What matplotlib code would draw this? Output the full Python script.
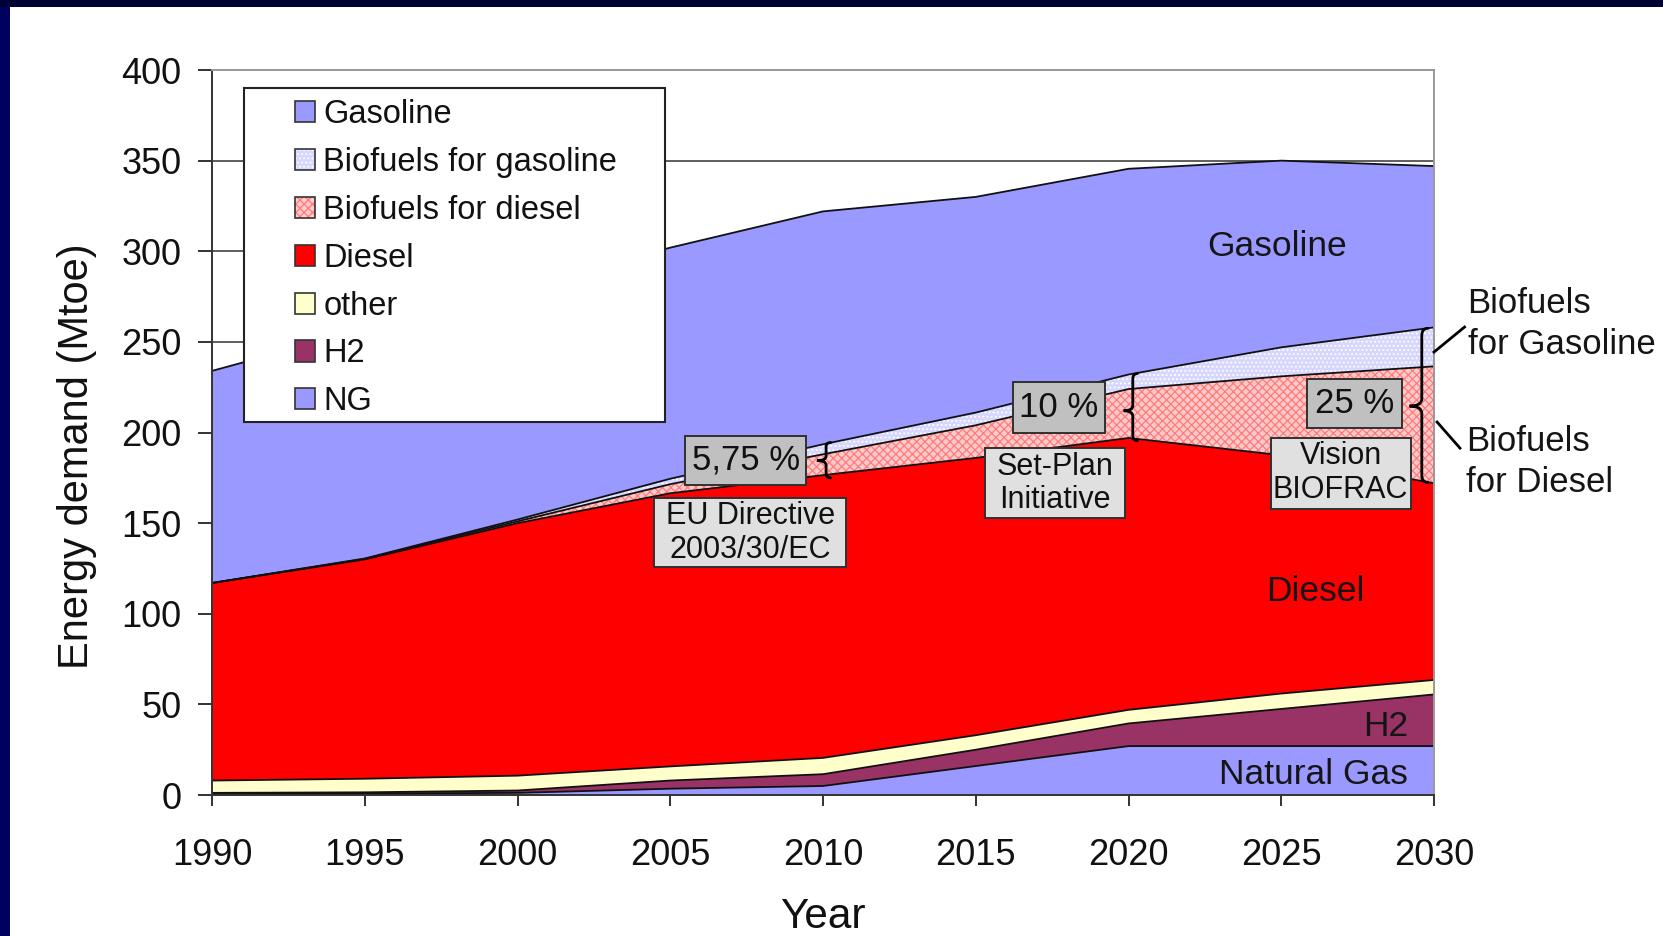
import numpy as np
import matplotlib
matplotlib.use("Agg")
import matplotlib.pyplot as plt
from matplotlib.patches import Rectangle, Patch, PathPatch
from matplotlib.path import Path
from matplotlib.legend_handler import HandlerTuple

plt.rcParams['font.family'] = ['Liberation Sans', 'DejaVu Sans']
plt.rcParams['hatch.linewidth'] = 0.9

# ---------------- data ----------------
years = [1990, 1995, 2000, 2005, 2010, 2015, 2020, 2025, 2030]
ng = [0.5, 0.8, 1.2, 3.5, 5, 16, 27, 27, 27]
h2 = [0.7, 0.7, 1.3, 4.5, 6.5, 9, 12.5, 20.5, 28.5]
other = [6.8, 7.5, 8.2, 7.8, 9, 8, 7.5, 8.5, 8]
diesel = [109, 121, 139.3, 150.7, 156, 153, 150, 131.5, 108.5]
bio_diesel = [0, 0.3, 1, 5, 11.5, 18, 27, 43.5, 64.5]
bio_gasoline = [0, 0.2, 1, 3, 5.5, 7, 8, 16, 21.5]
gasoline = [117, 126.5, 128, 127.5, 128.5, 119, 113.5, 103, 89]

legend_labels = ["Gasoline", "Biofuels for gasoline", "Biofuels for diesel",
                 "Diesel", "other", "H2", "NG"]
yticks = [0, 50, 100, 150, 200, 250, 300, 350, 400]
xticks = [1990, 1995, 2000, 2005, 2010, 2015, 2020, 2025, 2030]

# ---------------- figure ----------------
fig = plt.figure(figsize=(16.63, 9.36), dpi=100)
fig.patch.set_facecolor('white')
ax = fig.add_axes([0.1275, 0.1506, 0.8623 - 0.1275, 0.9252 - 0.1506])

# navy frame bands
fig.patches.append(Rectangle((0, 0), 10 / 1663, 1, transform=fig.transFigure,
                             fc='#00005E', ec='none', zorder=0))
fig.patches.append(Rectangle((0, 1 - 7 / 936), 1, 7 / 936, transform=fig.transFigure,
                             fc='#000035', ec='none', zorder=0))

BIOD_FC, BIOD_HC = '#FFCACA', '#FF7A7A'
BIOG_FC, BIOG_HC = '#D6D6FF', '#FFFFFF'

x = np.array(years, dtype=float)
layers = [
    (ng, '#9999FF', None, None),
    (h2, '#993366', None, None),
    (other, '#FFFFCC', None, None),
    (diesel, '#FF0000', None, None),
    (bio_diesel, BIOD_FC, 'xxxx', BIOD_HC),
    (bio_gasoline, BIOG_FC, '....', BIOG_HC),
    (gasoline, '#9999FF', None, None),
]
base = np.zeros_like(x)
tops = []
for vals, fc, hatch, hc in layers:
    top = base + np.array(vals, dtype=float)
    if hatch:
        ax.fill_between(x, base, top, facecolor=fc, edgecolor=hc, hatch=hatch,
                        linewidth=0, zorder=2)
    else:
        ax.fill_between(x, base, top, facecolor=fc, edgecolor='none',
                        linewidth=0, zorder=2)
    tops.append(top)
    base = top
for top in tops:
    ax.plot(x, top, color='#111111', lw=1.3, zorder=3, solid_joinstyle='round')

ax.set_xlim(1990, 2030)
ax.set_ylim(0, 400)
ax.set_xticks(xticks)
ax.set_yticks(yticks)
ax.set_xticklabels([str(t) for t in xticks])
ax.set_yticklabels([str(t) for t in yticks])
ax.tick_params(axis='x', length=8, width=1.4, color='#333333', pad=23,
               labelsize=26, labelcolor='#111111')
ax.tick_params(axis='y', length=10, width=1.4, color='#333333', pad=12,
               labelsize=26, labelcolor='#111111')
for yv in yticks[1:-1]:
    ax.axhline(yv, color='#333333', lw=1.1, zorder=1)
for s in ['left', 'bottom']:
    ax.spines[s].set_color('#333333')
    ax.spines[s].set_linewidth(1.4)
    ax.spines[s].set_zorder(4)
for s in ['top', 'right']:
    ax.spines[s].set_color('#999999')
    ax.spines[s].set_linewidth(1.4)
    ax.spines[s].set_zorder(4)

ax.set_xlabel("Year", fontsize=30.5, color='#111111', labelpad=17)
ax.set_ylabel("Energy demand (Mtoe)", fontsize=30, color='#111111')
ax.yaxis.set_label_coords(-0.094, 0.468)

# ---------------- legend ----------------
ax.add_patch(Rectangle((0.0262, 0.5145), 0.3445, 0.4607, transform=ax.transAxes,
                       fc='white', ec='#222222', lw=1.5, zorder=5))
edge = '#333333'
handles = [
    Patch(fc='#9999FF', ec=edge, lw=1.2),
    (Patch(fc=BIOG_FC, ec=BIOG_HC, hatch='....', lw=0),
     Patch(fill=False, ec=edge, lw=1.2)),
    (Patch(fc=BIOD_FC, ec=BIOD_HC, hatch='xxxx', lw=0),
     Patch(fill=False, ec=edge, lw=1.2)),
    Patch(fc='#FF0000', ec=edge, lw=1.2),
    Patch(fc='#FFFFCC', ec=edge, lw=1.2),
    Patch(fc='#993366', ec=edge, lw=1.2),
    Patch(fc='#9999FF', ec=edge, lw=1.2),
]
leg = ax.legend(handles, legend_labels, loc='upper left',
                bbox_to_anchor=(0.0677, 0.9595), frameon=False, borderpad=0,
                borderaxespad=0, handlelength=0.62, handleheight=0.62,
                handletextpad=0.25, labelspacing=0.515, fontsize=23.5,
                handler_map={tuple: HandlerTuple(ndivide=1, pad=0)})
leg.set_zorder(6)
for t in leg.get_texts():
    t.set_color('#111111')

# ---------------- in-chart labels ----------------
lab = dict(fontsize=25.5, color='#151515', zorder=7)
ax.text(2024.85, 302.5, "Gasoline", ha='center', va='center', **lab)
ax.text(2026.1, 112.2, "Diesel", ha='center', va='center', **lab)
ax.text(2029.15, 37.8, "H2", ha='right', va='center', **lab)
ax.text(2029.15, 11.5, "Natural Gas", ha='right', va='center', **lab)


# annotation boxes: (x0, x1, y0, y1) in data units, text, fontsize, face
def note(x0, x1, y0, y1, text, fs, fc):
    ax.add_patch(Rectangle((x0, y0), x1 - x0, y1 - y0, fc=fc, ec='#303030',
                           lw=1.4, zorder=8))
    ax.text((x0 + x1) / 2, (y0 + y1) / 2, text, ha='center', va='center',
            fontsize=fs, linespacing=1.17, color='#111111', zorder=9)


note(2005.49, 2009.44, 171.3, 198.2, "5,75 %", 25, '#C0C0C0')
note(2004.48, 2010.76, 125.7, 163.7, "EU Directive\n2003/30/EC", 22, '#E0E0E0')
note(2016.21, 2019.24, 200.0, 228.1, "10 %", 25, '#C0C0C0')
note(2015.31, 2019.90, 152.6, 191.2, "Set-Plan\nInitiative", 22, '#E0E0E0')
note(2025.83, 2028.96, 202.3, 229.8, "25 %", 25, '#C0C0C0')
note(2024.65, 2029.24, 157.9, 197.1, "Vision\nBIOFRAC", 22, '#E0E0E0')


def brace(xc, y0, y1, w, r, ym=None):
    if ym is None:
        ym = 0.5 * (y0 + y1)
    verts = [(xc + w * 0.5, y1), (xc, y1), (xc, y1 - r),
             (xc, ym + r),
             (xc, ym), (xc - w, ym),
             (xc, ym), (xc, ym - r),
             (xc, y0 + r),
             (xc, y0), (xc + w * 0.5, y0)]
    codes = [Path.MOVETO, Path.CURVE3, Path.CURVE3,
             Path.LINETO,
             Path.CURVE3, Path.CURVE3,
             Path.CURVE3, Path.CURVE3,
             Path.LINETO,
             Path.CURVE3, Path.CURVE3]
    ax.add_patch(PathPatch(Path(verts, codes), fill=False, ec='black', lw=2.0,
                           zorder=10, clip_on=False, capstyle='round'))


brace(2010.1, 175.0, 194.5, 0.3, 2.5, 184.5)
brace(2020.14, 195.5, 232.5, 0.3, 3.0, 212)
brace(2029.6, 172.5, 257.5, 0.4, 4.0, 214.6)

# right-side labels and pointers
ax.plot([2030.0, 2031.0], [244.4, 258.2], color='black', lw=2.0, clip_on=False, zorder=9)
ax.plot([2030.1, 2030.85], [205.8, 191.4], color='black', lw=2.0, clip_on=False, zorder=9)
ax.text(2031.1, 260, "Biofuels\nfor Gasoline", ha='left', va='center', fontsize=25,
        linespacing=1.32, color='#151515', clip_on=False)
ax.text(2031.05, 183.8, "Biofuels\nfor Diesel", ha='left', va='center', fontsize=25,
        linespacing=1.32, color='#151515', clip_on=False)

fig.savefig("out.png", dpi=100)
